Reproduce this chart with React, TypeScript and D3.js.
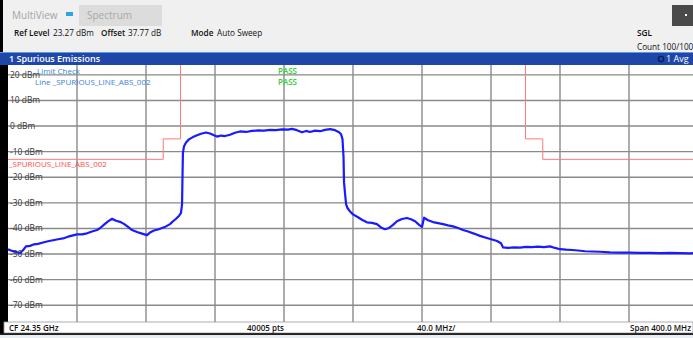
import React from "react";
import * as d3 from "d3";

// ---- data ----
const yTicks = [20, 10, 0, -10, -20, -30, -40, -50, -60, -70];
const xDivisions = [0, 40, 80, 120, 160, 200, 240, 280, 320, 360, 400]; // MHz offset from start (24.15 GHz)

// Limit line SPURIOUS_LINE_ABS_002 (MHz offset, dBm)
const limitFreq = [0, 90, 90, 100, 100, 300, 300, 310, 310, 400];
const limitLevel = [-13, -13, -5, -5, 40, 40, -5, -5, -13, -13];

// Trace 1 Avg (MHz offset from 24.15 GHz, dBm)
const traceFreq = [
  0, 1.7, 3.5, 5.2, 7.0, 8.7, 10.4, 12.8, 15.1, 17.4, 20.3, 23.2, 26.1, 29.0, 31.9, 34.8, 37.7, 40.0,
  42.9, 45.8, 48.7, 51.6, 53.3, 55.7, 58.0, 60.3, 62.6, 64.9, 67.2, 69.6, 71.9, 74.8, 77.7, 80.6,
  82.3, 84.6, 87.0, 89.3, 91.6, 93.9, 95.7, 97.4, 99.2, 100.3, 100.9, 101.2, 101.4, 102.0, 103.2,
  104.9, 107.2, 109.6, 111.9, 114.8, 117.1, 119.4, 121.2, 123.5, 125.8, 128.7, 131.6, 134.5, 138.0,
  141.4, 144.9, 148.4, 151.9, 155.3, 158.8, 162.3, 164.6, 167.5, 170.4, 172.8, 175.1, 178.0, 180.9,
  183.8, 186.7, 189.6, 191.9, 193.1, 193.9, 194.5, 194.8, 195.4, 196.0, 196.8, 198.3, 200.0, 202.9,
  205.2, 208.1, 211.0, 213.9, 216.2, 218.5, 220.9, 223.2, 225.5, 228.4, 231.3, 233.6, 236.0, 238.3,
  240.0, 241.2, 243.5, 246.4, 249.3, 252.2, 255.1, 258.0, 260.9, 263.8, 266.7, 270.1, 273.6, 277.1,
  280.6, 283.5, 285.8, 287.0, 289.9, 293.4, 296.8, 300.3, 303.8, 307.2, 310.7, 314.2, 317.1, 320.0,
  323.5, 327.0, 330.4, 334.5, 338.6, 343.2, 349.0, 354.8, 360.6, 366.4, 372.2, 378.0, 383.8, 389.6,
  395.4, 400,
];
const traceLevel = [
  -48.1, -48.6, -49.0, -49.3, -49.6, -48.5, -47.0, -46.8, -46.2, -46.0, -45.5, -45.0, -44.6, -44.2, -43.9, -43.2, -42.7, -42.3,
  -42.3, -41.9, -41.2, -40.6, -39.9, -38.5, -37.2, -36.2, -37.0, -37.4, -38.2, -39.4, -40.6, -41.4, -42.0, -42.6,
  -41.6, -40.8, -40.4, -39.8, -39.2, -38.3, -37.2, -36.2, -35.0, -33.9, -30.5, -18.0, -10.5, -8.0, -6.4,
  -5.2, -4.3, -3.6, -3.0, -2.5, -2.9, -3.6, -4.1, -3.7, -3.9, -3.4, -2.6, -2.1, -2.3,
  -1.9, -1.7, -1.8, -1.5, -1.6, -1.3, -1.4, -1.1, -1.6, -2.4, -1.9, -2.3, -1.8, -2.0,
  -1.5, -1.2, -1.6, -2.4, -3.2, -5.1, -12.0, -22.0, -26.5, -30.6, -32.0, -33.4, -34.5, -35.6,
  -36.6, -37.6, -37.8, -38.3, -39.6, -40.3, -39.8, -38.6, -37.2, -36.3, -35.9, -36.4, -37.2, -38.6,
  -39.4, -35.8, -36.8, -37.5, -37.9, -38.3, -38.8, -39.2, -39.8, -40.6, -41.2, -42.0, -42.9, -43.6,
  -44.3, -44.9, -45.8, -47.4, -47.6, -47.4, -47.5, -47.2, -47.3, -47.1, -47.3, -47.0, -47.6, -48.1,
  -48.3, -48.4, -48.6, -48.9, -49.0, -49.1, -49.3, -49.4, -49.4, -49.5, -49.5, -49.6, -49.5, -49.6,
  -49.7, -49.6,
];

const W = 693;
const H = 338;
const plotLeft = 8;
const plotRight = 698;
const plotTop = 65;
const plotBottom = 322;
const refLevel = 23.27;
const bottomLevel = -76.73;

const FONT = "'Open Sans', 'DejaVu Sans', sans-serif";

export default function App() {
  const x = d3.scaleLinear().domain([0, 400]).range([plotLeft, plotRight]);
  const y = d3.scaleLinear().domain([bottomLevel, refLevel]).range([plotBottom + 0.5, plotTop + 1.5]);

  const trace = traceFreq.map((f, i) => [f, traceLevel[i]] as [number, number]);
  const limit = limitFreq.map((f, i) => [f, limitLevel[i]] as [number, number]);
  const line = d3
    .line<[number, number]>()
    .x((d) => x(d[0]))
    .y((d) => y(d[1]));

  return (
    <svg
      width={W}
      height={H}
      style={{ position: "absolute", left: 0, top: 0, display: "block" }}
      fontFamily={FONT}
    >
      <defs>
        <clipPath id="plotClip">
          <rect x={plotLeft} y={plotTop} width={plotRight - plotLeft} height={plotBottom - plotTop} />
        </clipPath>
      </defs>
      {/* background */}
      <rect x={0} y={0} width={W} height={H} fill="#000" />
      <rect x={3} y={0} width={W - 3} height={52} fill="#f0f0f0" />

      {/* top toolbar */}
      <text x={12} y={19} fontSize={10} fill="#a4a4a4">MultiView</text>
      <rect x={66} y={12} width={7} height={4} fill="#2aa7e3" />
      <rect x={79} y={5} width={83} height={21} fill="#dcdcdc" />
      <text x={87} y={19} fontSize={10} fill="#a8a8a8">Spectrum</text>
      <rect x={672} y={5} width={21} height={21} fill="#4a4a4a" />
      <rect x={685} y={14} width={2} height={2} fill="#fff" />

      <g fontSize={8.2} fill="#111">
        <text x={14} y={36} fontWeight={600}>Ref Level</text>
        <text x={53} y={36}>23.27 dBm</text>
        <text x={101} y={36} fontWeight={600}>Offset</text>
        <text x={128} y={36}>37.77 dB</text>
        <text x={191} y={36} fontWeight={600}>Mode</text>
        <text x={217} y={36}>Auto Sweep</text>
        <text x={637} y={36} fontWeight={600}>SGL</text>
        <text x={637} y={50}>Count 100/100</text>
      </g>

      {/* blue title bar */}
      <rect x={0} y={52} width={W} height={13} fill="#1f46a9" />
      <rect x={0} y={52} width={W} height={1} fill="#5b9be0" />
      <text x={9} y={62} fontSize={9} fontWeight={600} fill="#fff">1 Spurious Emissions</text>
      <circle cx={661} cy={59} r={2.6} fill="none" stroke="#0a1a60" strokeWidth={1.3} />
      <text x={666} y={62} fontSize={9} fill="#fff">1 Avg</text>

      {/* plot area */}
      <rect x={plotLeft} y={plotTop} width={W - plotLeft} height={plotBottom - plotTop} fill="#fff" />

      <g clipPath="url(#plotClip)">
        {yTicks.map((t) => (
          <line key={"h" + t} x1={plotLeft} x2={plotRight} y1={y(t)} y2={y(t)} stroke="#8a8a8a" strokeWidth={1.4} />
        ))}
        {xDivisions.slice(1, -1).map((f) => (
          <line key={"v" + f} x1={x(f)} x2={x(f)} y1={plotTop} y2={plotBottom} stroke="#8a8a8a" strokeWidth={1.4} />
        ))}
        <path d={line(limit) ?? ""} fill="none" stroke="#ff7a7a" strokeWidth={1} />
        <path d={line(trace) ?? ""} fill="none" stroke="#1a1aff" strokeWidth={2.2} strokeLinejoin="round" />
      </g>

      {/* y labels */}
      <g fontSize={8.4} fill="#333">
        {yTicks.map((t) => (
          <text key={"l" + t} x={10} y={y(t) + 3}>{`${t} dBm`}</text>
        ))}
      </g>

      {/* limit check texts */}
      <g fontSize={8}>
        <text x={37} y={74} fill="#3b7fd6">Limit Check</text>
        <text x={35} y={85} fill="#3b7fd6">Line _SPURIOUS_LINE_ABS_002</text>
        <text x={278} y={74} fill="#33cc33" fontWeight={600}>PASS</text>
        <text x={278} y={85} fill="#33cc33" fontWeight={600}>PASS</text>
        <text x={9} y={167} fill="#ff4a4a">_SPURIOUS_LINE_ABS_002</text>
      </g>

      {/* footer */}
      <rect x={4} y={322} width={W - 4} height={11} fill="#fff" stroke="#9a9a9a" strokeWidth={0.8} />
      <g fontSize={8} fill="#111" fontWeight={600}>
        <text x={9} y={331}>CF 24.35 GHz</text>
        <text x={247} y={331}>40005 pts</text>
        <text x={417} y={331}>40.0 MHz/</text>
        <text x={630} y={331}>Span 400.0 MHz</text>
      </g>
      <rect x={0} y={333.5} width={W} height={1.5} fill="#222" />
      <rect x={0} y={335} width={W} height={3} fill="#e8eef4" />
    </svg>
  );
}
